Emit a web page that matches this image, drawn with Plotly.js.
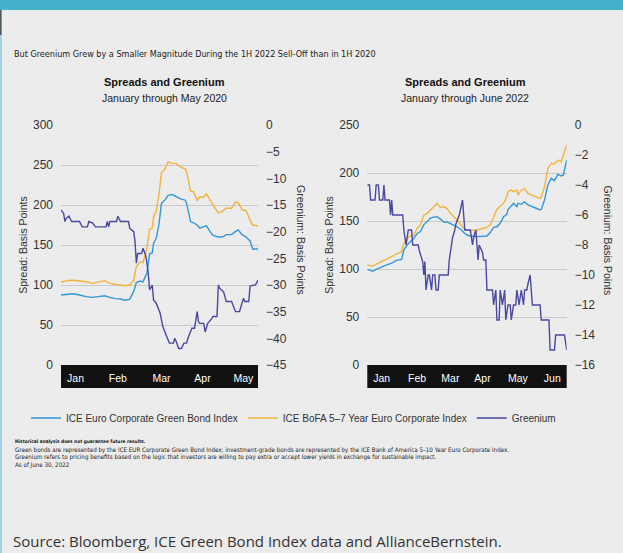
<!DOCTYPE html>
<html><head><meta charset="utf-8">
<script src="https://cdn.plot.ly/plotly-3.0.1.min.js"></script>
<style>html,body{margin:0;padding:0;background:#ececec;}#chart{width:623px;height:553px;}</style>
</head><body><div id="chart"></div>
<script>
// ---------- DATA ----------
const seriesNames = ['ICE Euro Corporate Green Bond Index', 'ICE BoFA 5\u20137 Year Euro Corporate Index', 'Greenium'];

// Panel 1: January through May 2020
const spreadDates2020 = ['2020-01-01','2020-01-05','2020-01-10','2020-01-15','2020-01-20','2020-01-25','2020-01-31','2020-02-03','2020-02-07','2020-02-11','2020-02-15','2020-02-18','2020-02-22','2020-02-25','2020-02-27','2020-03-01','2020-03-03','2020-03-06','2020-03-08','2020-03-10','2020-03-11','2020-03-13','2020-03-15','2020-03-17','2020-03-20','2020-03-22','2020-03-25','2020-03-28','2020-03-31','2020-04-04','2020-04-05','2020-04-08','2020-04-10','2020-04-13','2020-04-15','2020-04-18','2020-04-20','2020-04-23','2020-04-25','2020-04-29','2020-05-02','2020-05-05','2020-05-09','2020-05-12','2020-05-14','2020-05-17','2020-05-20','2020-05-23','2020-05-25','2020-05-29'];
const greenBond2020 = [87.5,88,89,87.5,85.5,84.5,85.5,86.5,84.5,83,82.5,81,82,92,103,105,104,115,139,140,152,158,175,202,207,212,213,210,208,206,202,179,178,175,171,173,174,166,162,160,160,163,163,167,169,163,160,155,145,145];
const bofa2020 = [103,105.4,106,105.4,104,102,104,105.4,102,101,100.4,99,100,106,123,129,128,146,170,171,185,192,212,240,246,254,252,252,248,245,242,217,217,206,210,210,214,205,200,190,192,196,196,204,203,194,193,181,175,174];
const greeniumDates2020 = ['2020-01-01','2020-01-03','2020-01-04','2020-01-05','2020-01-07','2020-01-09','2020-01-15','2020-01-17','2020-01-21','2020-01-22','2020-01-25','2020-01-27','2020-02-04','2020-02-05','2020-02-06','2020-02-07','2020-02-12','2020-02-13','2020-02-15','2020-02-21','2020-02-22','2020-02-25','2020-02-26','2020-02-27','2020-02-28','2020-03-02','2020-03-03','2020-03-05','2020-03-06','2020-03-07','2020-03-08','2020-03-10','2020-03-11','2020-03-13','2020-03-16','2020-03-18','2020-03-21','2020-03-23','2020-03-26','2020-03-27','2020-03-28','2020-03-30','2020-04-01','2020-04-03','2020-04-05','2020-04-06','2020-04-09','2020-04-11','2020-04-13','2020-04-14','2020-04-15','2020-04-18','2020-04-19','2020-04-21','2020-04-24','2020-04-25','2020-04-28','2020-04-29','2020-04-30','2020-05-03','2020-05-05','2020-05-09','2020-05-12','2020-05-15','2020-05-18','2020-05-19','2020-05-22','2020-05-23','2020-05-27','2020-05-29'];
const greenium2020 = [-15.9,-16.6,-18.1,-17.5,-17.1,-18.1,-18.1,-19.1,-19.1,-18.1,-18.4,-19.1,-19.1,-18.1,-19.1,-18.1,-18.1,-17.1,-18.1,-18.1,-19.4,-20,-21.9,-25.9,-24.1,-24.1,-23.1,-24.4,-25.9,-27.8,-30.9,-30,-32.8,-33.4,-35.3,-37.8,-39.7,-40.9,-40.9,-40,-40.5,-41.9,-41.9,-40.9,-40.9,-40,-38.1,-38.1,-35,-36.9,-37.2,-37.2,-38.8,-37.2,-36.3,-35.9,-35.9,-30,-30.6,-31.3,-33.1,-33.1,-35,-35,-32.5,-33.1,-33.1,-30.2,-30,-29.1];
const monthTicks2020 = ['2020-01-12','2020-02-13','2020-03-17','2020-04-17','2020-05-18'];
const monthLabels2020 = ['Jan','Feb','Mar','Apr','May'];

// Panel 2: January through June 2022
const spreadDates2022 = ['2022-01-01','2022-01-03','2022-01-06','2022-01-09','2022-01-14','2022-01-18','2022-01-23','2022-01-27','2022-02-01','2022-02-03','2022-02-06','2022-02-09','2022-02-12','2022-02-15','2022-02-18','2022-02-21','2022-02-24','2022-02-27','2022-03-02','2022-03-05','2022-03-08','2022-03-11','2022-03-14','2022-03-17','2022-03-23','2022-03-27','2022-03-29','2022-04-01','2022-04-04','2022-04-10','2022-04-13','2022-04-16','2022-04-19','2022-04-22','2022-04-25','2022-04-28','2022-05-01','2022-05-04','2022-05-07','2022-05-08','2022-05-11','2022-05-13','2022-05-16','2022-05-17','2022-05-20','2022-05-23','2022-05-26','2022-05-29','2022-06-03','2022-06-06','2022-06-07','2022-06-10','2022-06-13','2022-06-16','2022-06-19','2022-06-22','2022-06-25','2022-06-27','2022-06-30'];
const greenBond2022 = [99.7,99,97.6,99.7,102.4,104,106,109,110,120,125,128.5,132,137,139,146,149,153,154,154.5,152,149,149,147.6,144,140.6,138,135.4,134.4,133.7,134,134.4,134.4,138,143.4,144,147.6,154.5,157,162,166,168.4,165,168.4,167.4,170,166.7,165,163,161.5,162,171.9,187.5,194.4,192,198.6,197,198,213.5];
const bofa2022 = [104,103.5,103,105,107.6,110.4,112.8,115.6,118,126.7,132,134.4,135.4,142.4,146,156,158,161.5,165,168.4,164,165,163,158,151,146,142.4,140.6,140,140.6,141.3,142.4,143.4,146,155,162,165.6,168.4,175.3,180.6,182.3,180.6,182.3,177,182.3,184,178.8,177,174.7,173.6,174.7,185.8,204.9,210,209.4,213.5,211.8,218.8,229];
const greeniumDates2022 = ['2022-01-01','2022-01-03','2022-01-04','2022-01-08','2022-01-09','2022-01-11','2022-01-12','2022-01-15','2022-01-16','2022-01-17','2022-01-21','2022-01-22','2022-01-23','2022-01-24','2022-02-02','2022-02-03','2022-02-05','2022-02-07','2022-02-10','2022-02-11','2022-02-16','2022-02-17','2022-02-20','2022-02-21','2022-02-22','2022-02-23','2022-02-25','2022-02-26','2022-02-28','2022-03-01','2022-03-03','2022-03-04','2022-03-06','2022-03-07','2022-03-15','2022-03-16','2022-03-18','2022-03-19','2022-03-21','2022-03-22','2022-03-24','2022-03-25','2022-03-28','2022-03-29','2022-03-30','2022-04-04','2022-04-06','2022-04-07','2022-04-09','2022-04-11','2022-04-12','2022-04-15','2022-04-16','2022-04-18','2022-04-19','2022-04-24','2022-04-25','2022-04-27','2022-04-28','2022-04-30','2022-05-01','2022-05-03','2022-05-05','2022-05-06','2022-05-08','2022-05-10','2022-05-11','2022-05-13','2022-05-15','2022-05-16','2022-05-18','2022-05-20','2022-05-22','2022-05-23','2022-05-25','2022-05-26','2022-05-28','2022-05-30','2022-06-06','2022-06-07','2022-06-14','2022-06-15','2022-06-19','2022-06-20','2022-06-28','2022-06-30'];
const greenium2022 = [-4,-4,-5,-5,-4,-4,-5,-5,-4,-5,-5,-6,-5,-6,-6,-7,-8,-7,-7,-8,-8,-8.4,-9.1,-10,-9.1,-11,-10,-10,-11,-10,-10,-11,-11,-10,-10,-9,-8,-7.5,-7,-6.6,-6.2,-6,-5,-6,-7,-7,-8,-7.5,-7,-9,-8,-8.5,-9,-9,-11,-11,-12,-11,-13,-13,-11,-12,-11,-13,-12,-12,-13,-12,-12,-11,-12,-11,-12,-11,-11,-10.6,-10,-12,-12,-13,-13,-15,-15,-14,-14,-15];
const monthTicks2022 = ['2022-01-14','2022-02-15','2022-03-17','2022-04-15','2022-05-17','2022-06-17'];
const monthLabels2022 = ['Jan','Feb','Mar','Apr','May','Jun'];

const mainTitle = 'But Greenium Grew by a Smaller Magnitude During the 1H 2022 Sell-Off than in 1H 2020';
const panelTitles = ['Spreads and Greenium', 'Spreads and Greenium'];
const panelSubtitles = ['January through May 2020', 'January through June 2022'];
const leftAxisTitle = 'Spread: Basis Points';
const rightAxisTitle = 'Greenium: Basis Points';
const footBold = 'Historical analysis does not guarantee future results.';
const footLines = [
  'Green bonds are represented by the ICE EUR Corporate Green Bond Index; investment-grade bonds are represented by the ICE Bank of America 5\u201310 Year Euro Corporate Index.',
  'Greenium refers to pricing benefits based on the logic that investors are willing to pay extra or accept lower yields in exchange for sustainable impact.',
  'As of June 30, 2022'
];
const sourceText = 'Source: Bloomberg, ICE Green Bond Index data and AllianceBernstein.';

// ---------- STYLE ----------
const W = 623, H = 553;
const FONT = 'Liberation Sans, Arial, Helvetica, sans-serif';
const NARROW = 'Liberation Sans Narrow, Arial Narrow, DejaVu Sans Condensed, sans-serif';
const COLORS = ['#3397d6', '#f2b33f', '#4a48a2'];
const BG = '#ececec';
const px = v => v / W;
const py = v => 1 - v / H;
const yDom = [py(365), py(125)];
const bandY = [py(388), py(365)];

const traces = [
  {x: spreadDates2020, y: greenBond2020, name: seriesNames[0], legendgroup: 'g0', xaxis: 'x', yaxis: 'y', mode: 'lines', line: {color: COLORS[0], width: 1.4}},
  {x: spreadDates2020, y: bofa2020, name: seriesNames[1], legendgroup: 'g1', xaxis: 'x', yaxis: 'y', mode: 'lines', line: {color: COLORS[1], width: 1.4}},
  {x: greeniumDates2020, y: greenium2020, name: seriesNames[2], legendgroup: 'g2', xaxis: 'x', yaxis: 'y2', mode: 'lines', line: {color: COLORS[2], width: 1.4}},
  {x: spreadDates2022, y: greenBond2022, name: seriesNames[0], legendgroup: 'g0', showlegend: false, xaxis: 'x2', yaxis: 'y3', mode: 'lines', line: {color: COLORS[0], width: 1.4}},
  {x: spreadDates2022, y: bofa2022, name: seriesNames[1], legendgroup: 'g1', showlegend: false, xaxis: 'x2', yaxis: 'y3', mode: 'lines', line: {color: COLORS[1], width: 1.4}},
  {x: greeniumDates2022, y: greenium2022, name: seriesNames[2], legendgroup: 'g2', showlegend: false, xaxis: 'x2', yaxis: 'y4', mode: 'lines', line: {color: COLORS[2], width: 1.4}}
];

const tickFont = {family: FONT, size: 12, color: '#333'};
const monthFont = {family: FONT, size: 10.5, color: '#ffffff'};
const axTitleFont = {family: FONT, size: 10.5, color: '#333'};

function xAx(dom, anchor, range, tv, tt) {
  return {domain: dom, anchor: anchor, type: 'date', range: range, tickmode: 'array', tickvals: tv, ticktext: tt,
    tickfont: monthFont, showgrid: false, zeroline: false, showline: false, ticks: '', ticklabelstandoff: 5, fixedrange: true};
}
function yLeft(anchor, range, dtick) {
  return {domain: yDom, anchor: anchor, range: range, dtick: dtick, tick0: 0, gridcolor: '#cacaca', gridwidth: 1,
    zeroline: false, showline: false, ticks: '', tickfont: tickFont, ticklabelstandoff: 7, fixedrange: true,
    title: {text: leftAxisTitle, font: axTitleFont, standoff: 3}};
}
function yRight(over, anchor, range, dtick) {
  return {overlaying: over, side: 'right', anchor: anchor, range: range, dtick: dtick, tick0: 0, showgrid: false,
    zeroline: false, showline: false, ticks: '', tickfont: tickFont, ticklabelstandoff: 7, fixedrange: true};
}

const annotations = [];
const centers = [164, 465];
[0, 1].forEach(i => {
  annotations.push({text: '<b>' + panelTitles[i] + '</b>', x: px(centers[i]), y: py(82), xref: 'paper', yref: 'paper', xanchor: 'center', yanchor: 'middle', showarrow: false, font: {family: FONT, size: 11, color: '#111'}});
  annotations.push({text: panelSubtitles[i], x: px(centers[i]), y: py(98), xref: 'paper', yref: 'paper', xanchor: 'center', yanchor: 'middle', showarrow: false, font: {family: FONT, size: 10.5, color: '#222'}});
});
[301, 607.5].forEach(xc => {
  annotations.push({text: rightAxisTitle, textangle: 90, x: px(xc), y: py(240), xref: 'paper', yref: 'paper', xanchor: 'center', yanchor: 'middle', showarrow: false, font: axTitleFont});
});
annotations.push({text: '<b>' + footBold + '</b>', x: px(13), y: py(442), xref: 'paper', yref: 'paper', xanchor: 'left', yanchor: 'middle', showarrow: false, font: {family: NARROW, size: 4.8, color: '#111'}});
[449.5, 457, 464.5].forEach((yy, i) => {
  annotations.push({text: footLines[i], x: px(13), y: py(yy), xref: 'paper', yref: 'paper', xanchor: 'left', yanchor: 'middle', showarrow: false, font: {family: NARROW, size: 6.2, color: '#222'}});
});
annotations.push({text: sourceText, x: px(11), y: py(541), xref: 'paper', yref: 'paper', xanchor: 'left', yanchor: 'middle', showarrow: false, font: {family: 'Open Sans, Noto Sans, sans-serif', size: 15, color: '#333'}});

const shapes = [
  {type: 'rect', xref: 'paper', yref: 'paper', x0: 0, x1: 1, y0: py(10), y1: 1, fillcolor: '#46b1cb', line: {width: 0}, layer: 'below'},
  {type: 'rect', xref: 'paper', yref: 'paper', x0: 0, x1: px(2), y0: 0, y1: py(10), fillcolor: '#9fd3e4', line: {width: 0}, layer: 'below'},
  {type: 'rect', xref: 'paper', yref: 'paper', x0: 0, x1: px(1.5), y0: py(35), y1: py(10), fillcolor: '#4d5a60', line: {width: 0}, layer: 'below'},
  {type: 'rect', xref: 'x domain', yref: 'paper', x0: 0, x1: 1, y0: bandY[0], y1: bandY[1], fillcolor: '#111111', line: {width: 0}, layer: 'below'},
  {type: 'rect', xref: 'x2 domain', yref: 'paper', x0: 0, x1: 1, y0: bandY[0], y1: bandY[1], fillcolor: '#111111', line: {width: 0}, layer: 'below'}
];

const layout = {
  width: W, height: H, margin: {l: 0, r: 0, t: 0, b: 0},
  paper_bgcolor: BG, plot_bgcolor: BG,
  title: {text: mainTitle, x: px(14), xref: 'paper', xanchor: 'left', y: py(54), yref: 'paper', yanchor: 'middle', font: {family: NARROW, size: 9, color: '#222'}},
  showlegend: true,
  legend: {orientation: 'h', x: px(26), xanchor: 'left', y: py(418), yanchor: 'middle', bgcolor: 'rgba(0,0,0,0)', font: {family: FONT, size: 10, color: '#333'}, itemwidth: 30, traceorder: 'normal'},
  xaxis: xAx([px(61), px(258)], 'y', ['2020-01-01', '2020-05-29'], monthTicks2020, monthLabels2020),
  yaxis: yLeft('x', [0, 300], 50),
  yaxis2: yRight('y', 'x', [-45, 0], 5),
  xaxis2: xAx([px(367.3), px(566.7)], 'y3', ['2022-01-01', '2022-06-30'], monthTicks2022, monthLabels2022),
  yaxis3: yLeft('x2', [0, 250], 50),
  yaxis4: yRight('y3', 'x2', [-16, 0], 2),
  annotations: annotations,
  shapes: shapes
};

Plotly.newPlot('chart', traces, layout, {displayModeBar: false, staticPlot: true});
</script></body></html>
